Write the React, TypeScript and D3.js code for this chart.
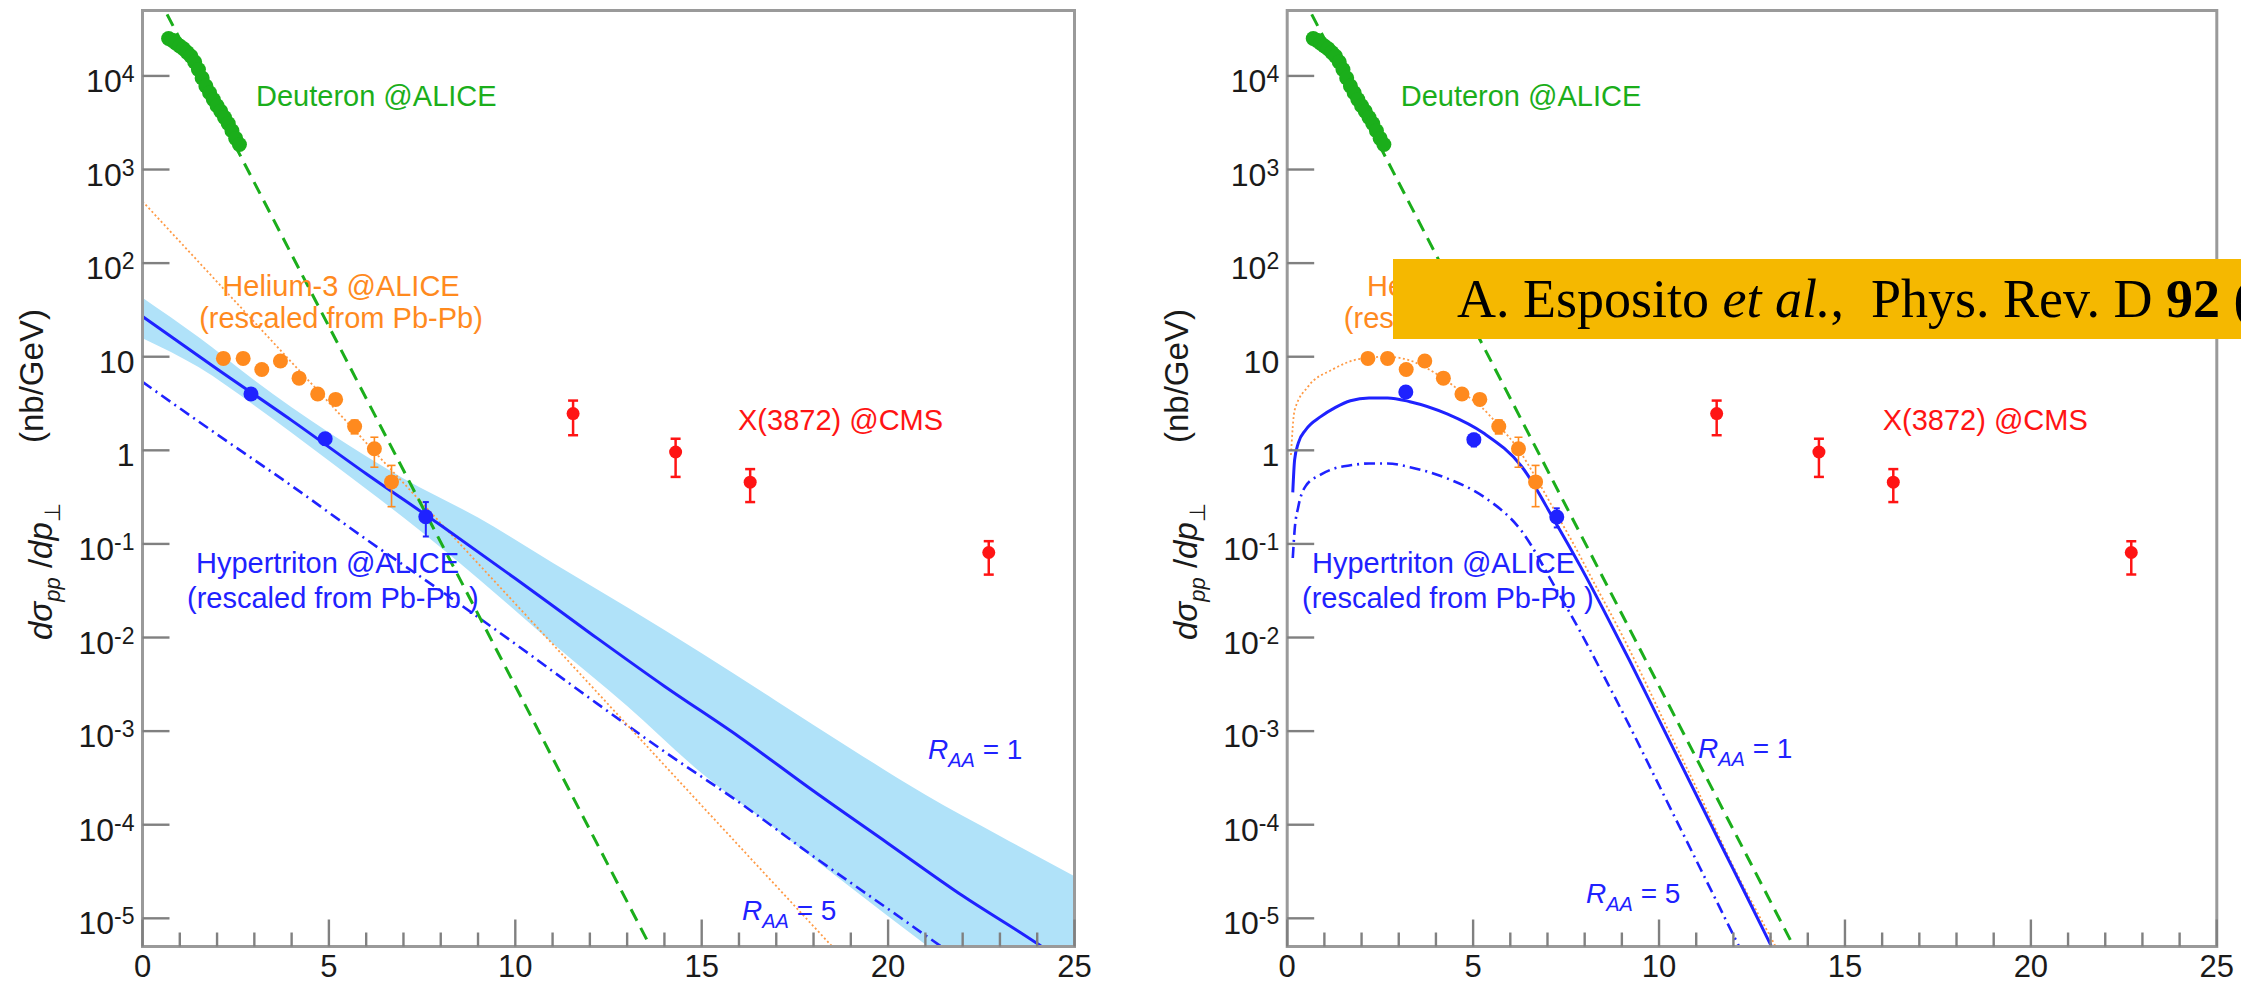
import React from 'react';
import * as d3 from 'd3';

const W = 2241;
const H = 984;

// ---------- shared data ----------
const xTickLabels = ['0', '5', '10', '15', '20', '25'];
const yMajorExp = [-5, -4, -3, -2, -1, 0, 1, 2, 3, 4];

const deuteronPt = [0.7, 0.8, 0.9, 1.0, 1.1, 1.2, 1.3, 1.4, 1.5, 1.6, 1.7, 1.8, 1.9, 2.0, 2.1, 2.2, 2.3, 2.4, 2.5, 2.6];
const deuteronVal = [25100, 24000, 22400, 20900, 19500, 17800, 16200, 14100, 11700, 9500, 7800, 6600, 5600, 4800, 4200, 3600, 3100, 2600, 2150, 1850];
const deuteronFitPt = [0.4, 14.2];
const deuteronFitVal = [7.2e4, 1.8e-6];

const heliumPt = [2.17, 2.7, 3.2, 3.7, 4.2, 4.7, 5.18, 5.69, 6.22, 6.68];
const heliumVal = [9.6, 9.6, 7.3, 9.0, 5.9, 4.0, 3.5, 1.8, 1.04, 0.46];
const heliumHi = [10.2, 10.2, 7.8, 9.6, 6.3, 4.3, 3.8, 2.1, 1.38, 0.69];
const heliumLo = [9.0, 9.0, 6.8, 8.4, 5.5, 3.7, 3.2, 1.5, 0.66, 0.25];

const cmsPt = [11.55, 14.3, 16.3, 22.7];
const cmsVal = [2.47, 0.96, 0.457, 0.081];
const cmsHi = [3.4, 1.33, 0.63, 0.107];
const cmsLo = [1.45, 0.52, 0.28, 0.047];

// ---------- left panel ----------
const hyperPtL = [2.91, 4.9, 7.6];
const hyperValL = [4.0, 1.33, 0.195];
const hyperHiL = [4.4, 1.5, 0.28];
const hyperLoL = [3.6, 1.15, 0.12];

const heliumFitPtL = [0, 5, 10, 15, 19.5];
const heliumFitValL = [457, 3.24, 0.023, 1.6e-4, 1.86e-6];

const r1PtL = [0, 2, 4, 6, 8, 10, 12, 14, 16, 18, 20, 22, 24, 25];
const r1ValL = [26.9, 7.41, 2.09, 0.562, 0.158, 0.0427, 0.0112, 0.00302, 8.71e-4, 2.29e-4, 6.31e-5, 1.74e-5, 5.37e-6, 2.82e-6];
const r5ValL = [5.38, 1.48, 0.418, 0.112, 0.0316, 0.00854, 0.00224, 6.04e-4, 1.74e-4, 4.58e-5, 1.26e-5, 3.48e-6, 1.07e-6, 5.6e-7];

const bandPtL = [0, 1.5, 3, 5, 7, 9, 11, 13, 15, 17, 19, 21, 23, 25];
const bandHiL = [42.7, 16.2, 5.62, 1.55, 0.501, 0.191, 0.0630, 0.021, 0.0068, 0.0021, 6.5e-4, 2.09e-4, 7.59e-5, 2.82e-5];
const bandLoL = [15.8, 7.76, 3.02, 0.776, 0.191, 0.0427, 0.0087, 0.00186, 3.55e-4, 8.91e-5, 2.14e-5, 5.25e-6, 1.35e-6, 3.55e-7];

// ---------- right panel ----------
const hyperPtR = [3.19, 5.02, 7.25];
const hyperValR = [4.2, 1.3, 0.194];
const hyperHiR = [4.6, 1.5, 0.24];
const hyperLoR = [3.8, 1.1, 0.15];

const heliumFitPtR = [0.1, 0.2, 0.56, 1.2, 2.0, 2.7, 3.3, 4.0, 4.7, 5.2, 5.7, 6.2, 6.7, 7.2, 7.7, 8.3, 9.0, 9.6, 10.2, 11.0, 12.0, 13.0, 13.4];
const heliumFitValR = [0.89, 2.69, 4.79, 7.24, 9.55, 10, 9.12, 6.61, 4.17, 2.95, 1.82, 1.05, 0.501, 0.224, 0.1, 0.0355, 0.0107, 0.00355, 0.00112, 2.5e-4, 3.55e-5, 6.3e-6, 3.16e-6];

const r1PtR = [0.15, 0.2, 0.3, 0.5, 0.9, 1.3, 1.7, 2.2, 2.7, 3.3, 4.3, 5.3, 6.3, 7.2, 7.9, 8.5, 9.2, 10.0, 11.1, 11.7, 12.3, 12.9, 13.2];
const r1ValR = [0.355, 0.794, 1.2, 1.66, 2.29, 2.88, 3.39, 3.63, 3.63, 3.31, 2.45, 1.51, 0.676, 0.174, 0.0562, 0.02, 0.00575, 0.00132, 1.74e-4, 5.75e-5, 1.91e-5, 6.3e-6, 3.6e-6];
const r5PtR = [0.15, 0.2, 0.3, 0.5, 0.9, 1.3, 1.7, 2.2, 2.7, 3.3, 4.3, 5.3, 6.3, 7.2, 7.9, 8.5, 9.2, 10.0, 11.1, 11.7, 12.3];
const r5ValR = [0.0708, 0.141, 0.251, 0.417, 0.55, 0.646, 0.692, 0.724, 0.724, 0.661, 0.501, 0.316, 0.138, 0.0347, 0.0112, 0.00398, 0.00115, 2.63e-4, 3.47e-5, 1.15e-5, 3.8e-6];

const GREEN = '#1bae1b';
const ORANGE = '#ff8a1e';
const ORANGE_LINE = '#ff9a45';
const BLUE = '#1f22ff';
const RED = '#ff1414';
const BAND = '#b0e2f9';
const AXIS = '#9a9a9a';
const TICK = '#808080';
const SANS = 'Liberation Sans, Arial, Helvetica, sans-serif';

const zip = (a: number[], b: number[]) => a.map((v, i) => [v, b[i]] as [number, number]);

type Cfg = {
  id: string;
  left: number;
  right: number;
  hyperPt: number[]; hyperVal: number[]; hyperHi: number[]; hyperLo: number[];
  heFitPt: number[]; heFitVal: number[]; heCurve: boolean;
  r1Pt: number[]; r1Val: number[];
  r5Pt: number[]; r5Val: number[];
  band?: { pt: number[]; hi: number[]; lo: number[] };
  hyperLbl: [number, number];
  r1Lbl: [number, number];
  r5Lbl: [number, number];
};

const TOP = 10.5;
const BOTTOM = 946.5;

function Panel({ cfg }: { cfg: Cfg }) {
  const x = d3.scaleLinear().domain([0, 25]).range([cfg.left, cfg.right]);
  const y = d3.scaleLog().domain([5e-6, 5e4]).range([BOTTOM, TOP]);
  const off = cfg.left - 142.5;

  const lineLin = d3.line<[number, number]>().x(d => x(d[0])).y(d => y(d[1]));
  const lineSmooth = d3.line<[number, number]>().x(d => x(d[0])).y(d => y(d[1])).curve(d3.curveMonotoneX);

  const area = cfg.band
    ? d3.area<number>()
        .x((_, i) => x(cfg.band!.pt[i]))
        .y0((_, i) => y(cfg.band!.lo[i]))
        .y1((_, i) => y(cfg.band!.hi[i]))
        .curve(d3.curveMonotoneX)(cfg.band.pt)
    : null;

  const yTicks = y.ticks();
  const xTicks = d3.range(0, 26);
  const clipId = 'clip-' + cfg.id;

  const errBar = (px: number, hi: number, lo: number, color: string, w: number, cap: number, key: string) => (
    <g key={key} stroke={color} strokeWidth={w}>
      <line x1={x(px)} x2={x(px)} y1={y(hi)} y2={y(lo)} />
      <line x1={x(px) - cap} x2={x(px) + cap} y1={y(hi)} y2={y(hi)} />
      <line x1={x(px) - cap} x2={x(px) + cap} y1={y(lo)} y2={y(lo)} />
    </g>
  );

  return (
    <g>
      <defs>
        <clipPath id={clipId}>
          <rect x={cfg.left} y={TOP} width={cfg.right - cfg.left} height={BOTTOM - TOP} />
        </clipPath>
      </defs>
      <g clipPath={`url(#${clipId})`}>
        {area && <path d={area || ''} fill={BAND} stroke="none" />}
        <path d={lineSmooth(zip(cfg.r5Pt, cfg.r5Val)) || ''} fill="none" stroke={BLUE} strokeWidth={2.6} strokeDasharray="11,5,2,5" />
        <path d={(cfg.heCurve ? lineSmooth : lineLin)(zip(cfg.heFitPt, cfg.heFitVal)) || ''} fill="none" stroke={ORANGE_LINE} strokeWidth={1.8} strokeDasharray="2,2.5" />
        <path d={lineLin(zip(deuteronFitPt, deuteronFitVal)) || ''} fill="none" stroke={GREEN} strokeWidth={3} strokeDasharray="13,8" />
        <path d={lineSmooth(zip(cfg.r1Pt, cfg.r1Val)) || ''} fill="none" stroke={BLUE} strokeWidth={3} />
        {deuteronPt.map((p, i) => (
          <circle key={'d' + i} cx={x(p)} cy={y(deuteronVal[i])} r={7.5} fill={GREEN} />
        ))}
        {heliumPt.map((p, i) => errBar(p, heliumHi[i], heliumLo[i], ORANGE, 1.6, 4, 'he' + i))}
        {heliumPt.map((p, i) => (
          <circle key={'h' + i} cx={x(p)} cy={y(heliumVal[i])} r={7.5} fill={ORANGE} />
        ))}
        {cfg.hyperPt.map((p, i) => errBar(p, cfg.hyperHi[i], cfg.hyperLo[i], BLUE, 2, 3, 'hy' + i))}
        {cfg.hyperPt.map((p, i) => (
          <circle key={'hyc' + i} cx={x(p)} cy={y(cfg.hyperVal[i])} r={7.5} fill={BLUE} />
        ))}
        {cmsPt.map((p, i) => errBar(p, cmsHi[i], cmsLo[i], RED, 2.5, 5, 'cm' + i))}
        {cmsPt.map((p, i) => (
          <circle key={'c' + i} cx={x(p)} cy={y(cmsVal[i])} r={6.5} fill={RED} />
        ))}
      </g>

      {/* frame */}
      <rect x={cfg.left} y={TOP} width={cfg.right - cfg.left} height={BOTTOM - TOP} fill="none" stroke={AXIS} strokeWidth={3} />

      {/* y ticks */}
      {yTicks.map((t, i) => {
        const mant = t / Math.pow(10, Math.floor(Math.log10(t) + 1e-9));
        const major = Math.abs(mant - 1) < 1e-6;
        const len = major ? 27 : 15;
        return <line key={'yt' + i} x1={cfg.left} x2={cfg.left + len} y1={y(t)} y2={y(t)} stroke={TICK} strokeWidth={2.4} />;
      })}
      {/* x ticks */}
      {xTicks.map(t => {
        const major = t % 5 === 0;
        const len = major ? 27 : 14;
        return <line key={'xt' + t} x1={x(t)} x2={x(t)} y1={BOTTOM} y2={BOTTOM - len} stroke={TICK} strokeWidth={2.4} />;
      })}

      {/* y tick labels */}
      {yMajorExp.map(e => {
        const yy = y(Math.pow(10, e)) + 16;
        const xx = cfg.left - 8;
        if (e === 0) return <text key={'yl' + e} x={xx} y={yy} textAnchor="end" fontSize={32} fontFamily={SANS} fill="#1a1a1a">1</text>;
        if (e === 1) return <text key={'yl' + e} x={xx} y={yy} textAnchor="end" fontSize={32} fontFamily={SANS} fill="#1a1a1a">10</text>;
        return (
          <text key={'yl' + e} x={xx} y={yy} textAnchor="end" fontSize={32} fontFamily={SANS} fill="#1a1a1a">
            10<tspan fontSize={23} dy={-10}>{String(e)}</tspan>
          </text>
        );
      })}
      {/* x tick labels */}
      {xTickLabels.map((l, i) => (
        <text key={'xl' + i} x={x(+l)} y={977} textAnchor="middle" fontSize={31} fontFamily={SANS} fill="#1a1a1a">{l}</text>
      ))}

      {/* y title */}
      <text transform={`translate(${52 + off},640) rotate(-90)`} fontSize={33} fontFamily={SANS} fill="#1a1a1a">
        <tspan fontStyle="italic">d</tspan><tspan fontStyle="italic">σ</tspan>
        <tspan fontStyle="italic" fontSize={22} dy={8}>pp</tspan>
        <tspan dy={-8}> /</tspan><tspan fontStyle="italic">dp</tspan>
        <tspan fontSize={22} dy={8}>⊥</tspan>
      </text>
      <text transform={`translate(${43 + off},443) rotate(-90)`} fontSize={33} fontFamily={SANS} fill="#1a1a1a">(nb/GeV)</text>

      {/* annotations */}
      <text x={256 + off} y={106} fontSize={29} fontFamily={SANS} fill={GREEN}>Deuteron @ALICE</text>
      <text x={341 + off} y={296} textAnchor="middle" fontSize={29} fontFamily={SANS} fill={ORANGE}>Helium-3 @ALICE</text>
      <text x={341 + off} y={328} textAnchor="middle" fontSize={29} fontFamily={SANS} fill={ORANGE}>(rescaled from Pb-Pb)</text>
      <text x={cfg.hyperLbl[0]} y={573} fontSize={29} fontFamily={SANS} fill={BLUE}>Hypertriton @ALICE</text>
      <text x={cfg.hyperLbl[1]} y={608} fontSize={29} fontFamily={SANS} fill={BLUE}>(rescaled from Pb-Pb )</text>
      <text x={738 + off} y={430} fontSize={29} fontFamily={SANS} fill={RED}>X(3872) @CMS</text>
      <text x={cfg.r1Lbl[0]} y={cfg.r1Lbl[1]} fontSize={28} fontFamily={SANS} fill={BLUE}>
        <tspan fontStyle="italic">R</tspan><tspan fontStyle="italic" fontSize={20} dy={8}>AA</tspan><tspan dy={-8}> = 1</tspan>
      </text>
      <text x={cfg.r5Lbl[0]} y={cfg.r5Lbl[1]} fontSize={28} fontFamily={SANS} fill={BLUE}>
        <tspan fontStyle="italic">R</tspan><tspan fontStyle="italic" fontSize={20} dy={8}>AA</tspan><tspan dy={-8}> = 5</tspan>
      </text>
    </g>
  );
}

const leftCfg: Cfg = {
  id: 'L', left: 142.5, right: 1074.5,
  hyperPt: hyperPtL, hyperVal: hyperValL, hyperHi: hyperHiL, hyperLo: hyperLoL,
  heFitPt: heliumFitPtL, heFitVal: heliumFitValL, heCurve: false,
  r1Pt: r1PtL, r1Val: r1ValL, r5Pt: r1PtL, r5Val: r5ValL,
  band: { pt: bandPtL, hi: bandHiL, lo: bandLoL },
  hyperLbl: [196, 187],
  r1Lbl: [928, 759],
  r5Lbl: [742, 920],
};

const rightCfg: Cfg = {
  id: 'R', left: 1287.2, right: 2216.8,
  hyperPt: hyperPtR, hyperVal: hyperValR, hyperHi: hyperHiR, hyperLo: hyperLoR,
  heFitPt: heliumFitPtR, heFitVal: heliumFitValR, heCurve: true,
  r1Pt: r1PtR, r1Val: r1ValR, r5Pt: r5PtR, r5Val: r5ValR,
  hyperLbl: [1312, 1302],
  r1Lbl: [1698, 758],
  r5Lbl: [1586, 903],
};

export default function App() {
  return (
    <svg width={W} height={H} viewBox={`0 0 ${W} ${H}`} style={{ position: 'absolute', left: 0, top: 0, background: '#fff' }}>
      <rect x={0} y={0} width={W} height={H} fill="#fff" />
      <Panel cfg={leftCfg} />
      <Panel cfg={rightCfg} />
      <rect x={1393} y={259} width={W - 1393} height={80} fill="#f5b800" />
      <text x={1457} y={317} fontSize={54} fontFamily="Liberation Serif, Times New Roman, serif" fill="#000" xmlSpace="preserve">
        {'A. Esposito '}<tspan fontStyle="italic">et al.</tspan>{',\u00A0\u00A0Phys. Rev. D '}<tspan fontWeight="bold">92</tspan>{' ('}
      </text>
    </svg>
  );
}
